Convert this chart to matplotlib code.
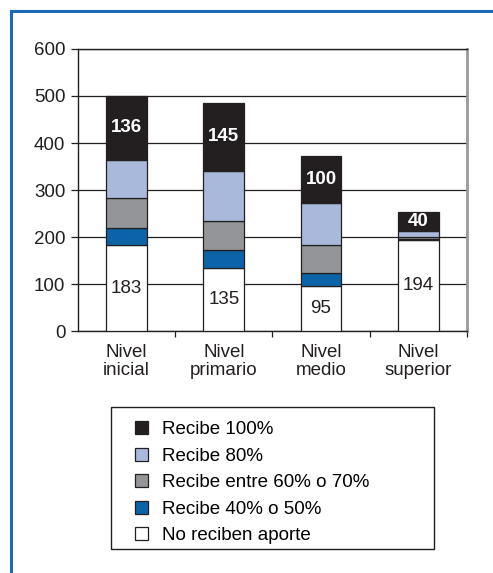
import matplotlib.pyplot as plt
import matplotlib.patches as mpatches
from matplotlib.lines import Line2D
import numpy as np

plt.rcParams['font.family'] = ['Liberation Sans', 'DejaVu Sans']

categorias = ['Nivel\ninicial', 'Nivel\nprimario', 'Nivel\nmedio', 'Nivel\nsuperior']
no_reciben = [183, 135, 95, 194]
recibe_40_50 = [36, 38, 29, 2]
recibe_60_70 = [63, 62, 60, 3]
recibe_80 = [82, 106, 88, 14]
recibe_100 = [136, 145, 100, 40]

series = [no_reciben, recibe_40_50, recibe_60_70, recibe_80, recibe_100]
nombres = ['No reciben aporte', 'Recibe 40% o 50%', 'Recibe entre 60% o 70%',
           'Recibe 80%', 'Recibe 100%']
colores = ['#ffffff', '#0b64a8', '#939598', '#a9b9dc', '#231f20']

fig = plt.figure(figsize=(4.93, 5.73), dpi=100)
ax = fig.add_axes([0.158, 0.4223, 0.789, 0.4922])

x = np.arange(len(categorias))
base = np.zeros(len(categorias))
for vals, nom, col in zip(series, nombres, colores):
    ax.bar(x, vals, 0.42, bottom=base, color=col, edgecolor='#231f20',
           linewidth=0.9, label=nom, zorder=3)
    base = base + np.array(vals)

# etiquetas
for i in range(len(categorias)):
    ax.text(x[i], no_reciben[i] / 2, str(no_reciben[i]), ha='center', va='center',
            fontsize=13.5, color='#231f20', zorder=4)
    tope = base[i] - recibe_100[i] / 2
    ax.text(x[i], tope, str(recibe_100[i]), ha='center', va='center',
            fontsize=13.5, fontweight='bold', color='white', zorder=4)

ax.set_xlim(-0.5, 3.5)
ax.set_ylim(0, 600)
ax.set_yticks(range(0, 601, 100))
ax.yaxis.grid(True, color='#231f20', linewidth=0.9, zorder=1)
ax.set_axisbelow(True)
ax.set_xticks([0.5, 1.5, 2.5, 3.5], minor=False)
ax.set_xticklabels([])
ax.set_xticks(x, minor=True)
ax.set_xticklabels(categorias, minor=True, fontsize=13.5, color='#231f20', linespacing=1.15)
ax.tick_params(axis='x', which='minor', length=0, pad=9)
ax.tick_params(axis='x', which='major', length=4, color='#231f20', width=0.9)
ax.tick_params(axis='y', length=5, color='#231f20', width=0.9, labelsize=13.5,
               labelcolor='#231f20', pad=4)
for s in ['left', 'bottom', 'top']:
    ax.spines[s].set_color('#231f20')
    ax.spines[s].set_linewidth(1.0)
ax.spines['right'].set_color('#999999')
ax.spines['right'].set_linewidth(2.0)

# leyenda (marco dibujado aparte)
fig.add_artist(mpatches.Rectangle((111 / 493, 1 - 549 / 573), 323 / 493, 142 / 573,
                                  transform=fig.transFigure, facecolor='none',
                                  edgecolor='#231f20', linewidth=1.0))
handles, labels = ax.get_legend_handles_labels()
leg = fig.legend(handles[::-1], labels[::-1], loc='upper left',
                 bbox_to_anchor=(135 / 493, 1 - 421 / 573),
                 fontsize=13.5, frameon=False,
                 handlelength=0.7, handleheight=0.7, handletextpad=0.75,
                 labelspacing=0.5, borderpad=0, borderaxespad=0)
for h in leg.legend_handles:
    h.set_linewidth(0.9)

# marco azul
fig.add_artist(Line2D([0.0213, 0.0213], [0, 0.981], color='#1a6bb5', linewidth=2.2,
                      transform=fig.transFigure))
fig.add_artist(Line2D([0.0213, 1.0], [0.981, 0.981], color='#1a6bb5', linewidth=2.2,
                      transform=fig.transFigure))

fig.savefig('out.png', dpi=100)
